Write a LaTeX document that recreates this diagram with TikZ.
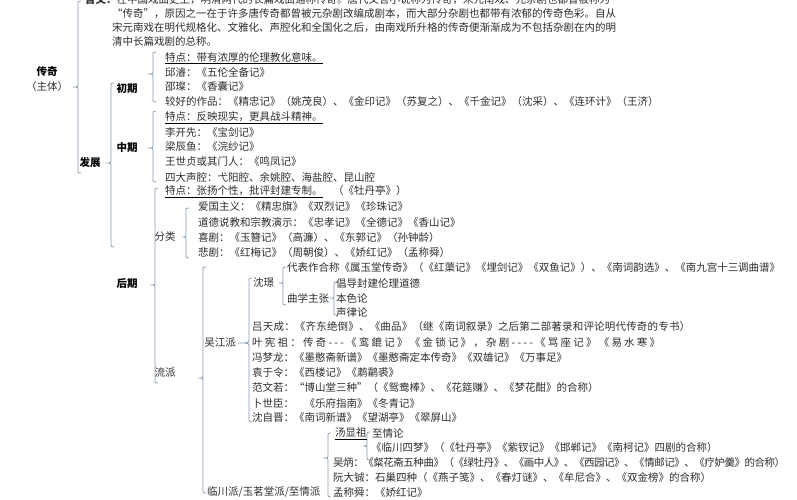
\documentclass[tikz,border=0pt]{standalone}
\usepackage{fontspec}
\setmainfont{Noto Sans CJK SC}
\definecolor{tg}{HTML}{2E2E2E}
\definecolor{bc}{HTML}{8A9BAE}
\makeatletter
\newcommand\sprd[2]{\makebox[#1][s]{\sprd@a#2\sprd@end}}
\def\sprd@end{\sprd@end}
\def\sprd@a#1{#1\sprd@b}
\def\sprd@b#1{\ifx#1\sprd@end\else\hskip 0pt plus 1fil minus 1pt\relax #1\expandafter\sprd@b\fi}
\makeatother
\newcommand\curly[5]{%
 \draw[brc] ({#1+3},{#2}) .. controls ({#1},{#2}) .. ({#1},{#2+3.5}) -- ({#1},{#3-3.5}) .. controls ({#1},{#3}) .. ({#1-#5},{#3}) .. controls ({#1},{#3}) .. ({#1},{#3+3.5}) -- ({#1},{#4-3.5}) .. controls ({#1},{#4}) .. ({#1+3},{#4});}
\begin{document}
\begin{tikzpicture}[x=1pt,y=-1pt,
  txt/.style={anchor=west,inner sep=0pt,text=tg,font=\fontsize{10.5}{12}\selectfont},
  lbl/.style={anchor=center,inner sep=0pt,text=black,font=\fontsize{10.5}{12}\selectfont\bfseries},
  lbn/.style={anchor=center,inner sep=0pt,text=tg,font=\fontsize{10.5}{12}\selectfont},
  brc/.style={draw=bc,line width=0.8pt},
  ul/.style={draw=black,line width=0.6pt}]
\useasboundingbox (0,0) rectangle (797,500);
\clip (0,0) rectangle (797,500);
\fill[white] (0,0) rectangle (797,500);
% top paragraph
\node[txt] (p1) at (85,0) {{\bfseries 含义：}在中国戏曲史上，明清两代的长篇戏曲通称传奇。唐代文言小说称为传奇，宋元南戏、元杂剧也都曾被称为};
\node[txt] (p2) at (112,14) {“传奇”，原因之一在于许多唐传奇都曾被元杂剧改编成剧本，而大部分杂剧也都带有浓郁的传奇色彩。自从};
\node[txt] (p3) at (112,28) {宋元南戏在明代规格化、文雅化、声腔化和全国化之后，由南戏所升格的传奇便渐渐成为不包括杂剧在内的明};
\node[txt] (p4) at (112,42) {清中长篇戏剧的总称。};
% main labels
\node[lbl] (cq) at (47,72) {传奇};
\node[lbn] (zt) at (47,87) {（主体）};
\node[lbl] (fz) at (90,163) {发展};
\node[lbl] (cqi) at (127,88) {初期};
\node[lbl] (zqi) at (127,148) {中期};
\node[lbl] (hqi) at (127,284) {后期};
% braces
\curly{78}{1}{87}{173}{5}
\curly{111}{83}{163}{247}{5}
\curly{153}{52}{74}{102}{5}
\curly{153}{111}{148}{182}{5}
\curly{155}{188}{285}{383}{5}
\curly{186}{208}{237}{258}{4}
\curly{203}{267}{378}{493}{5}
\curly{249}{278}{343}{422}{11}
\curly{283}{267}{283}{305}{4}
\curly{334}{282}{298}{315}{4}
\curly{328}{433}{458}{497}{5}
\curly{367}{432}{446}{460}{3}
% 初期
\node[txt] (a1) at (165,57) {特点：带有浓厚的伦理教化意味。};
\draw[ul] ([yshift=-1pt]a1.south west) -- ([yshift=-1pt]a1.south east);
\node[txt] (a2) at (165,72) {邱濬：《五伦全备记》};
\node[txt] (a3) at (165,87) {邵璨：《香囊记》};
\node[txt] (a4) at (165,102) {较好的作品：《精忠记》（姚茂良）、《金印记》（苏复之）、《千金记》（沈采）、《连环计》（王济）};
% 中期
\node[txt] (b1) at (165,117) {特点：反映现实，更具战斗精神。};
\draw[ul] ([yshift=-1pt]b1.south west) -- ([yshift=-1pt]b1.south east);
\node[txt] (b2) at (165,132) {李开先：《宝剑记》};
\node[txt] (b3) at (165,147) {梁辰鱼：《浣纱记》};
\node[txt] (b4) at (165,162) {王世贞或其门人：《鸣凤记》};
\node[txt] (b5) at (165,177) {四大声腔：弋阳腔、余姚腔、海盐腔、昆山腔};
% 后期
\node[txt] (h1) at (165,191) {特点：张扬个性，批评封建专制。};
\draw[ul] ([yshift=-1pt]h1.south west) -- ([yshift=-1pt]h1.south east);
\node[txt] (h1b) at (333,191) {（《牡丹亭》）};
\node[lbn] (fl) at (165,237) {分类};
\node[txt] (f1) at (198,207) {爱国主义：《精忠旗》《双烈记》《珍珠记》};
\node[txt] (f2) at (198,222) {道德说教和宗教演示：《忠孝记》《全德记》《香山记》};
\node[txt] (f3) at (198,238) {喜剧：《玉簪记》（高濂）、《东郭记》（孙钟龄）};
\node[txt] (f4) at (198,253) {悲剧：《红梅记》（周朝俊）、《娇红记》（孟称舜）};
\node[lbn] (lp) at (165,373) {流派};
% 吴江派
\node[lbn] (wj) at (220,343) {吴江派};
\node[txt] (sj) at (253,283) {沈璟};
\node[txt] (sj1) at (287,268) {\sprd{493pt}{代表作合称《属玉堂传奇》（《红蕖记》《埋剑记》《双鱼记》）、《南词韵选》、《南九宫十三调曲谱》}};
\node[txt] (sj2) at (287,298) {曲学主张};
\node[txt] (sj3) at (336,283) {倡导封建伦理道德};
\node[txt] (sj4) at (336,298) {本色论};
\node[txt] (sj5) at (336,313) {声律论};
\node[txt] (w1) at (252,327) {\sprd{438pt}{吕天成：《齐东绝倒》、《曲品》（继《南词叙录》之后第二部著录和评论明代传奇的专书）}};
\node[txt] (w2) at (252,343) {\sprd{408pt}{叶宪祖：传奇---《鸾鎞记》《金锁记》，杂剧----《骂座记》《易水寒》}};
\node[txt] (w3) at (252,358) {冯梦龙：《墨憨斋新谱》《墨憨斋定本传奇》《双雄记》《万事足》};
\node[txt] (w4) at (252,373) {袁于令：《西楼记》《鹔鹴裘》};
\node[txt] (w5) at (252,388) {范文若：“博山堂三种”（《鸳鸯棒》、《花筵赚》、《梦花酣》的合称）};
\node[txt] (w6) at (252,403) {卜世臣：　《乐府指南》《冬青记》};
\node[txt] (w7) at (252,418) {沈自晋：《南词新谱》《望湖亭》《翠屏山》};
% 临川派
\node[txt] (lc) at (207,492) {临川派/玉茗堂派/至情派};
\node[txt] (t1) at (335,433) {汤显祖};
\draw[ul] ([yshift=-1pt]t1.south west) -- ([yshift=-1pt]t1.south east);
\node[txt] (t2) at (372,433) {至情论};
\node[txt] (t3) at (371,448) {《临川四梦》（《牡丹亭》《紫钗记》《邯郸记》《南柯记》四剧的合称）};
\node[txt] (l2) at (333,463) {\sprd{452pt}{吴炳：《粲花斋五种曲》（《绿牡丹》、《画中人》、《西园记》、《情邮记》、《疗妒羹》的合称）}};
\node[txt] (l3) at (333,478) {阮大铖：石巢四种（《燕子笺》、《春灯谜》、《牟尼合》、《双金榜》的合称）};
\node[txt] (l4) at (333,493) {孟称舜：《娇红记》};
\end{tikzpicture}
\end{document}
